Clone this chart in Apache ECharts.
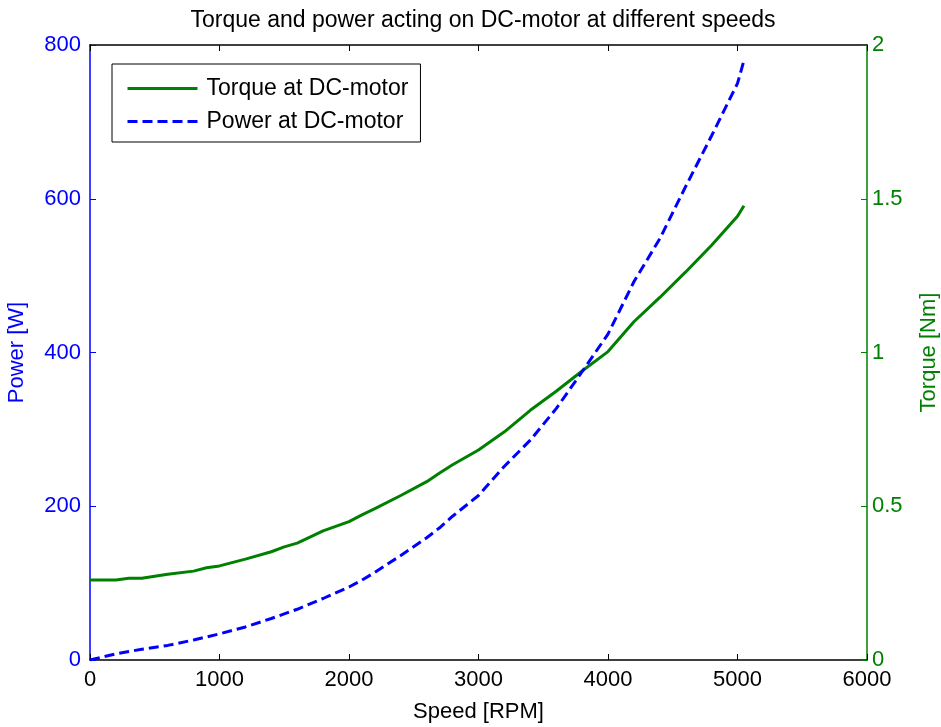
<!DOCTYPE html>
<html>
<head>
<meta charset="utf-8">
<script src="https://cdn.jsdelivr.net/npm/echarts@6/dist/echarts.min.js"></script>
<style>html,body{margin:0;padding:0;background:#fff}#c{width:941px;height:727px}</style>
</head>
<body>
<div id="c"></div>
<script>
var titleText = 'Torque and power acting on DC-motor at different speeds';
var speedRPM = [0,200,300,400,600,800,900,1000,1200,1400,1500,1600,1800,2000,2100,2200,2400,2600,2700,2800,3000,3200,3400,3600,3800,4000,4200,4400,4600,4800,5000,5050];
var torqueNm = [0.260,0.260,0.266,0.266,0.279,0.289,0.300,0.306,0.328,0.352,0.368,0.380,0.420,0.450,0.472,0.492,0.535,0.580,0.608,0.635,0.683,0.742,0.812,0.874,0.940,1.003,1.100,1.179,1.262,1.349,1.443,1.477];
var powerW = [0,8,11,14,19,26,30,34,43,54,60,66,80,95,104,114,136,159,172,187,214,252,286,327,375,424,492,548,616,682,750,780];
var seriesNames = ['Torque at DC-motor', 'Power at DC-motor'];
var xName = 'Speed [RPM]', y1Name = 'Power [W]', y2Name = 'Torque [Nm]';

var torquePts = speedRPM.map(function(s,i){return [s, torqueNm[i]];});
var powerPts = speedRPM.map(function(s,i){return [s, powerW[i]];});

var FONT = 'Liberation Sans, Arial, sans-serif';
var chart = echarts.init(document.getElementById('c'), null, {renderer:'canvas'});
chart.setOption({
  animation: false,
  backgroundColor: '#ffffff',
  title: {
    text: titleText, left: 478, top: 4, textAlign: 'center',
    textStyle: {fontFamily: FONT, fontSize: 23, fontWeight: 'normal', color: '#000'}
  },
  grid: {left: 90, right: 74, top: 45, bottom: 67, containLabel: false, outerBoundsMode: 'none'},
  legend: {
    orient: 'vertical', left: 112, top: 64,
    padding: [13, 12, 9, 14], itemGap: 10,
    itemWidth: 70, itemHeight: 20,
    backgroundColor: '#fff', borderColor: '#000', borderWidth: 1, borderRadius: 0,
    itemStyle: {color: 'transparent', borderWidth: 0, opacity: 0},
    lineStyle: {width: 3},
    textStyle: {fontFamily: FONT, fontSize: 23, color: '#000', padding: [0,0,0,4]},
    data: seriesNames
  },
  xAxis: [{
    type: 'value', min: 0, max: 6000, interval: 1000,
    name: xName, nameLocation: 'middle', nameGap: 41,
    nameTextStyle: {fontFamily: FONT, fontSize: 22, color: '#000'},
    axisLine: {onZero: false, lineStyle: {color: '#000', width: 1.5}},
    axisTick: {inside: true, length: 6, lineStyle: {color: '#000'}},
    axisLabel: {fontFamily: FONT, fontSize: 22, color: '#000', margin: 9, formatter: function(v){return String(v);}},
    splitLine: {show: false}
  }, {
    type: 'value', min: 0, max: 6000, interval: 1000, position: 'top',
    axisLine: {onZero: false, lineStyle: {color: '#000', width: 1.5}},
    axisTick: {inside: true, length: 6, lineStyle: {color: '#000'}},
    axisLabel: {show: false}, splitLine: {show: false}
  }],
  yAxis: [{
    type: 'value', min: 0, max: 800, interval: 200, position: 'left',
    name: y1Name, nameLocation: 'middle', nameGap: 62, nameRotate: 90,
    nameTextStyle: {fontFamily: FONT, fontSize: 22, color: '#0000ff'},
    axisLine: {show: true, onZero: false, lineStyle: {color: '#0000ff', width: 1.5}},
    axisTick: {show: true, inside: true, length: 6, lineStyle: {color: '#0000ff'}},
    axisLabel: {fontFamily: FONT, fontSize: 22, color: '#0000ff', margin: 9},
    splitLine: {show: false}
  }, {
    type: 'value', min: 0, max: 2, interval: 0.5, position: 'right',
    name: y2Name, nameLocation: 'middle', nameGap: 51, nameRotate: 90,
    nameTextStyle: {fontFamily: FONT, fontSize: 22, color: '#008000'},
    axisLine: {show: true, onZero: false, lineStyle: {color: '#008000', width: 1.5}},
    axisTick: {show: true, inside: true, length: 6, lineStyle: {color: '#008000'}},
    axisLabel: {fontFamily: FONT, fontSize: 22, color: '#008000', margin: 5},
    splitLine: {show: false}
  }],
  series: [{
    name: seriesNames[0], type: 'line', yAxisIndex: 1, xAxisIndex: 0,
    data: torquePts, showSymbol: false, symbol: 'none', smooth: false,
    lineStyle: {color: '#008000', width: 3}, itemStyle: {color: '#008000'}
  }, {
    name: seriesNames[1], type: 'line', yAxisIndex: 0, xAxisIndex: 0,
    data: powerPts, showSymbol: false, symbol: 'none', smooth: false,
    lineStyle: {color: '#0000ff', width: 3, type: [10, 5]}, itemStyle: {color: '#0000ff'}
  }]
});
</script>
</body>
</html>
